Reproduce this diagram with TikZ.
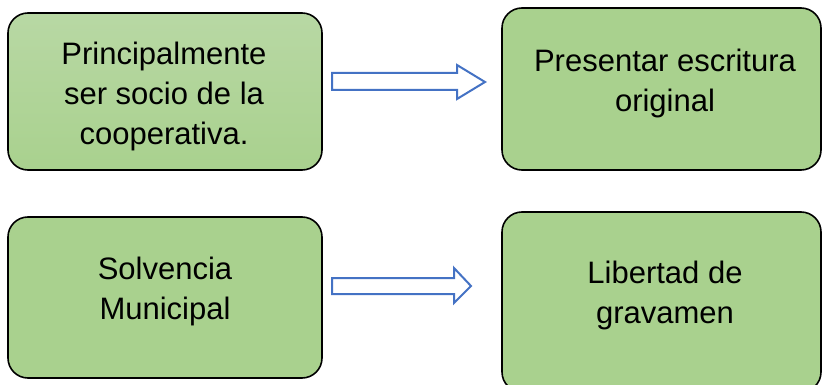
\documentclass[tikz,border=0pt]{standalone}
\usepackage{fontspec}
\setmainfont{Liberation Sans}
\usetikzlibrary{positioning,calc}

\definecolor{verde}{HTML}{A9D18E}
\definecolor{verdeclaro}{HTML}{B8D8A4}
\definecolor{azul}{HTML}{4472C4}

\tikzset{
  caja/.style={draw=black, line width=1.6pt, rounded corners=20pt, fill=verde},
  texto/.style={align=center, font=\fontsize{31}{40}\selectfont},
  flecha/.style={draw=azul, line width=2pt, fill=white, line join=miter}
}

\begin{document}
\begin{tikzpicture}[x=1pt,y=-1pt]

      \useasboundingbox (0,0) rectangle (822,385);

      \node[caja, top color=verdeclaro, bottom color=verde, minimum width=314pt, minimum height=157pt] at (165,91.5) (caja1) {};
      \node[caja, minimum width=319pt, minimum height=162pt] at (661.5,89) (caja2) {};
      \node[caja, minimum width=314pt, minimum height=161pt] at (165,297.5) (caja3) {};
      \node[caja, minimum width=319pt, minimum height=180pt] at (661.5,302) (caja4) {};

      \node[texto] at (164,96) (t1) {Principalmente\\ser socio de la\\cooperativa.};
      \node[texto] at (665,83) (t2) {Presentar escritura\\original};
      \node[texto] at (165,291) (t3) {Solvencia\\Municipal};
      \node[texto] at (665,295) (t4) {Libertad de\\gravamen};

      \coordinate (cola1) at (332,73);
      \coordinate (punta1) at (485,82);
      \coordinate (cola2) at (332,278);
      \coordinate (punta2) at (471,286);

      \draw[flecha] (cola1) -- ++(125,0) -- ++(0,-8) -- (punta1) -- ++(-28,17) -- ++(0,-9) -- ++(-125,0) -- cycle;
      \draw[flecha] (cola2) -- ++(122,0) -- ++(0,-10) -- (punta2) -- ++(-17,17) -- ++(0,-9) -- ++(-122,0) -- cycle;

    \end{tikzpicture}
\end{document}
